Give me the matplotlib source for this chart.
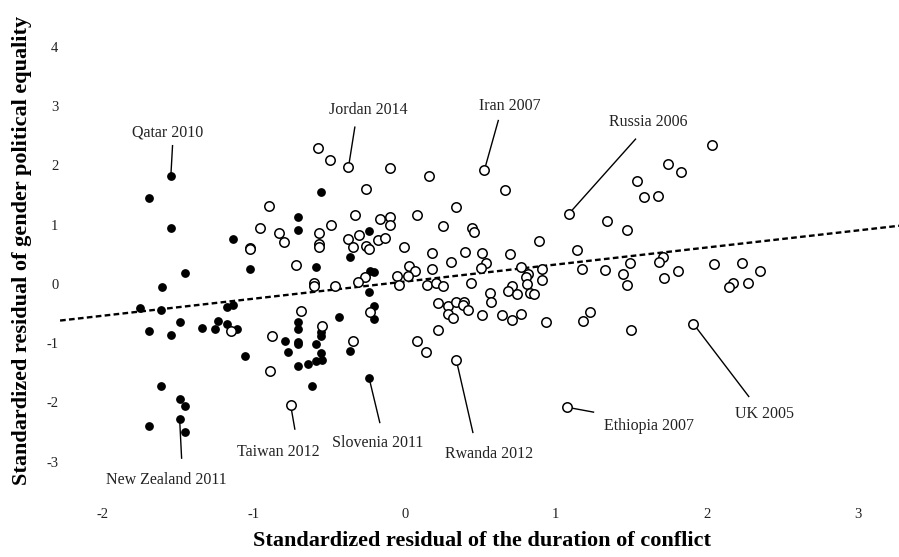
import numpy as np
import matplotlib.pyplot as plt

plt.rcParams['font.family'] = ['Liberation Serif', 'DejaVu Serif']
plt.rcParams['axes.unicode_minus'] = False

# conflict-duration residual (x) vs gender political equality residual (y)
# filled markers
x_fill = [-1.547, -1.69, -1.547, -1.137, -1.022, -1.456, -1.606, -1.749, -1.613, -1.179,
          -1.139, -1.489, -1.69, -1.549, -1.34, -1.238, -1.256, -1.179, -1.11, -1.055,
          -0.789, -0.771, -1.613, -1.489, -1.456, -1.489, -1.69, -1.456, -0.555, -0.709,
          -0.709, -0.236, -0.361, -0.584, -0.2, -0.231, -0.236, -0.2, -0.2, -0.434,
          -0.709, -0.709, -0.553, -0.553, -0.709, -0.709, -0.584, -0.553, -0.584, -0.544,
          -0.641, -0.709, -0.613, -0.359, -0.236]
y_fill = [1.826, 1.445, 0.94, 0.759, 0.253, 0.186, -0.062, -0.40, -0.438, -0.383,
          -0.354, -0.641, -0.793, -0.86, -0.737, -0.624, -0.77, -0.68, -0.765, -1.214,
          -0.967, -1.147, -1.725, -1.939, -2.063, -2.282, -2.406, -2.496, 1.551, 1.13,
          0.911, 0.899, 0.46, 0.287, 0.191, 0.208, -0.146, -0.371, -0.596, -0.562,
          -0.641, -0.759, -0.821, -0.877, -0.973, -1.023, -1.012, -1.175, -1.304, -1.282,
          -1.349, -1.383, -1.72, -1.135, -1.585]

# open markers
x_open = [-0.901, -0.958, -0.835, -0.80, -1.024, -1.024, -1.148, -0.881, -0.892, -0.755,
          -0.573, -0.496, -0.372, -0.099, 0.161, -0.253, 0.337, -0.33, -0.161, -0.097,
          -0.097, 0.081, 0.251, -0.489, -0.566, -0.566, -0.566, -0.377, -0.302, -0.344,
          -0.253, -0.236, -0.178, -0.128, -0.005, 0.183, 0.304, 0.183, -0.72, 0.028,
          0.071, 0.024, -0.051, -0.264, -0.309, -0.463, -0.599, -0.599, -0.038, 0.15,
          0.21, 0.253, -0.683, -0.544, -0.341, -0.227, 0.22, 0.286, 0.337, 0.289,
          0.317, 0.218, 0.081, 0.141, 0.341, 0.527, 0.663, 0.447, 0.456, 1.084,
          1.337, 1.469, 0.888, 1.139, 0.399, 0.509, 0.696, 0.54, 0.507, 0.771,
          0.815, 0.804, 0.91, 0.908, 1.17, 1.324, 1.441, 1.489, 1.469, 0.438,
          0.707, 0.808, 0.562, 0.568, 0.683, 0.742, 0.831, 0.855, 0.39, 0.386,
          0.419, 0.509, 0.646, 0.707, 0.771, 0.934, 1.181, 1.225, 1.50, 1.071,
          2.034, 1.745, 1.831, 1.538, 1.582, 1.677, 1.707, 1.679, 1.811, 1.714,
          2.044, 2.229, 2.353, 2.17, 2.148, 2.274, 1.91]
y_open = [1.315, 0.944, 0.86, 0.708, 0.61, 0.585, -0.793, -0.888, -1.473, -2.04,
          2.288, 2.091, 1.968, 1.951, 1.826, 1.602, 1.298, 1.158, 1.096, 1.13,
          1.0, 1.158, 0.967, 0.989, 0.855, 0.67, 0.613, 0.759, 0.826, 0.619,
          0.641, 0.59, 0.747, 0.781, 0.624, 0.528, 0.366, 0.258, 0.309, 0.298,
          0.224, 0.14, 0.14, 0.118, 0.039, -0.045, 0.012, -0.045, -0.017, -0.017,
          0.012, -0.045, -0.45, -0.703, -0.967, -0.477, -0.326, -0.371, -0.304, -0.511,
          -0.579, -0.776, -0.956, -1.152, -1.282, 1.917, 1.58, 0.939, 0.872, 1.175,
          1.057, 0.911, 0.73, 0.573, 0.545, 0.528, 0.506, 0.359, 0.27, 0.281,
          0.163, 0.123, 0.253, 0.056, 0.253, 0.236, 0.169, 0.354, -0.017, 0.012,
          -0.034, 0.0, -0.157, -0.315, -0.129, -0.18, -0.157, -0.174, -0.309, -0.365,
          -0.444, -0.528, -0.523, -0.613, -0.506, -0.652, -0.624, -0.478, -0.776, -2.08,
          2.338, 2.024, 1.889, 1.737, 1.462, 1.473, 0.46, 0.366, 0.208, 0.106,
          0.337, 0.349, 0.214, 0.022, -0.056, 0.006, -0.675]

# trend line
slope = 0.288
intercept = 0.037
line_x = [-2.28, 3.27]

# labelled cases: name, point, leader end, text centre
labels = ['Qatar 2010', 'Jordan 2014', 'Iran 2007', 'Russia 2006', 'UK 2005',
          'Ethiopia 2007', 'Rwanda 2012', 'Slovenia 2011', 'Taiwan 2012', 'New Zealand 2011']
pt_x = [-1.547, -0.372, 0.527, 1.084, 1.91, 1.071, 0.341, -0.236, -0.755, -1.489]
pt_y = [1.826, 1.968, 1.917, 1.175, -0.675, -2.08, -1.282, -1.585, -2.04, -2.282]
end_x = [-1.536, -0.330, 0.619, 1.527, 2.276, 1.249, 0.451, -0.165, -0.727, -1.476]
end_y = [2.33, 2.642, 2.754, 2.44, -1.90, -2.164, -2.507, -2.339, -2.45, -2.94]
txt_x = [-1.566, -0.243, 0.698, 1.613, 2.379, 1.615, 0.555, -0.176, -0.837, -1.58]
txt_y = [2.546, 2.934, 3.0, 2.726, -2.2, -2.406, -2.87, -2.687, -2.844, -3.317]

fig = plt.figure(figsize=(8.99, 5.57), dpi=100)
ax = fig.add_axes([0.0712, 0.0987, 0.9288, 0.8708])

for i in range(len(labels)):
    ax.plot([pt_x[i], end_x[i]], [pt_y[i], end_y[i]], color='black', lw=1.0, zorder=1)
    ax.text(txt_x[i], txt_y[i], labels[i], ha='center', va='center', fontsize=11.5, color='#222222')

lx = np.array(line_x)
ax.plot(lx, intercept + slope * lx, color='black', lw=1.7, dashes=(2.4, 1.4), zorder=2, clip_on=False)

ax.scatter(x_fill, y_fill, s=28, color='black', zorder=3)
ax.scatter(x_open, y_open, s=46, facecolor='white', edgecolor='black', linewidths=1.1, zorder=4)

ax.set_xlim(-2.254, 3.27)
ax.set_ylim(-3.68, 4.5)
ax.set_xticks([-2, -1, 0, 1, 2, 3])
ax.set_yticks([-3, -2, -1, 0, 1, 2, 3, 4])
ax.tick_params(length=0, labelsize=10.5, pad=4, colors='#222222')
for s in ax.spines.values():
    s.set_visible(False)

fig.text(482 / 899, 1 - 541 / 557, 'Standardized residual of the duration of conflict',
         ha='center', va='center', fontsize=16, fontweight='bold')
fig.text(22 / 899, 1 - 250 / 557, 'Standardized residual of gender political equality',
         ha='center', va='center', rotation=90, fontsize=16, fontweight='bold')

fig.savefig('out.png', dpi=100)
